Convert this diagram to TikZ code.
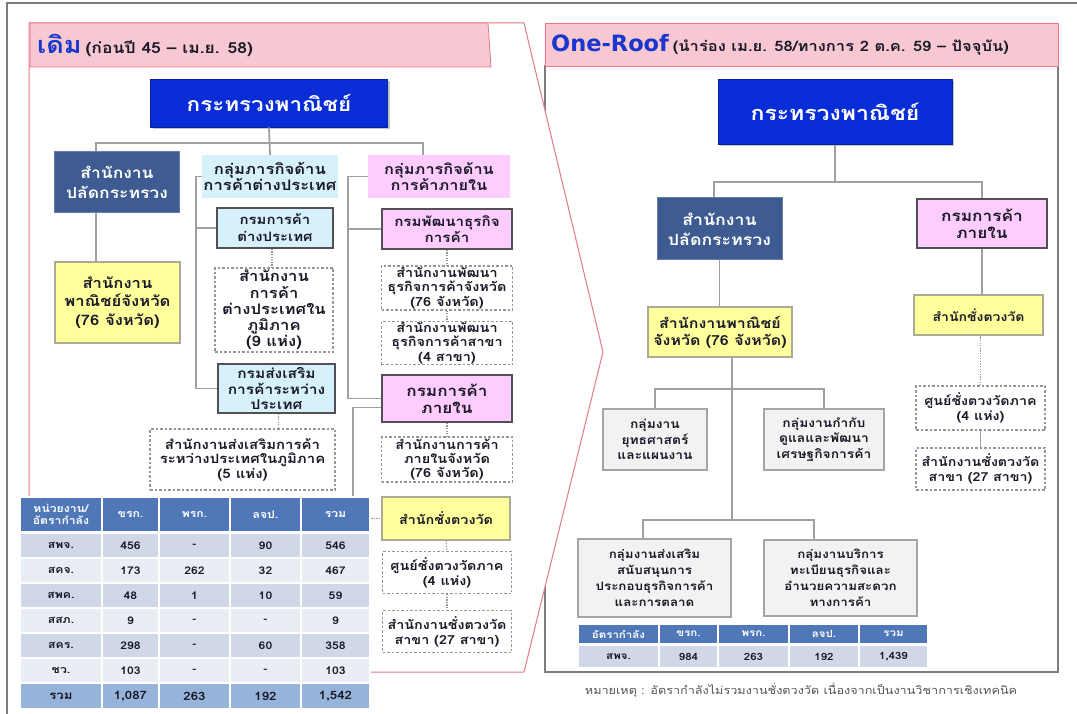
\documentclass[tikz,border=0pt]{standalone}
\usepackage{fontspec}
\setmainfont[Script=Thai, FakeStretch=1.15]{Loma}
\newfontfamily\latf{DejaVu Sans}
\usetikzlibrary{shadows}
\definecolor{titleblue}{RGB}{25,55,205}
\definecolor{minblue}{RGB}{8,45,215}
\definecolor{psblue}{RGB}{62,92,145}
\definecolor{cyanl}{RGB}{214,241,252}
\definecolor{pinkl}{RGB}{255,204,255}
\definecolor{yell}{RGB}{255,255,155}
\definecolor{ybord}{RGB}{170,170,150}
\definecolor{bdark}{RGB}{80,80,85}
\definecolor{dgray}{RGB}{150,150,150}
\definecolor{lgray}{RGB}{160,160,160}
\definecolor{grayf}{RGB}{242,242,242}
\definecolor{gbord}{RGB}{165,165,165}
\definecolor{txt}{RGB}{25,25,40}
\definecolor{phead}{RGB}{248,200,210}
\definecolor{pline}{RGB}{228,120,135}
\definecolor{thead}{RGB}{80,120,185}
\definecolor{rowd}{RGB}{208,216,232}
\definecolor{rowl}{RGB}{233,237,244}
\definecolor{rowt}{RGB}{150,180,218}
\definecolor{frame}{RGB}{125,125,125}
\definecolor{notec}{RGB}{85,85,85}
\newcommand{\fsz}[2]{\fontsize{#1}{#2}\selectfont}
\newcommand{\tabcell}[7]{\node[tcell, #5, minimum width={#2-#1}, minimum height={#4-#3}] (#7) at ({(#1+#2)/2},{(#3+#4)/2}) {#6};}
\tikzset{
  every node/.style={align=center, inner sep=1pt, text=txt},
  conn/.style={draw=lgray, line width=1.8pt},
  dotc/.style={draw=dgray, line width=1.1pt, dash pattern=on 1.3pt off 1.3pt},
  thinc/.style={draw=lgray, line width=1.1pt},
  minb/.style={rectangle, fill=minblue, draw=minblue!75!black, line width=0.8pt, text=white, font=\bfseries\fsz{19.5}{22}, drop shadow={opacity=0.45, shadow xshift=2pt, shadow yshift=-2pt}},
  psb/.style={rectangle, fill=psblue, draw=psblue!80!white, line width=1pt, text=white, font=\bfseries\fsz{15.2}{20}},
  grpc/.style={rectangle, fill=cyanl, font=\bfseries\fsz{14.5}{16}},
  cyb/.style={rectangle, fill=cyanl, draw=bdark, line width=1.5pt, font=\bfseries\fsz{13}{17}},
  grpp/.style={rectangle, fill=pinkl, font=\bfseries\fsz{14.2}{15.5}},
  pkb/.style={rectangle, fill=pinkl, draw=bdark, line width=1.5pt, font=\bfseries\fsz{13.2}{15.5}},
  yb/.style={rectangle, fill=yell, draw=ybord, line width=1.2pt, font=\bfseries\fsz{14.5}{18.5}},
  db/.style={rectangle, fill=white, draw=dgray, line width=1.1pt, dash pattern=on 2.5pt off 2pt, font=\bfseries\fsz{12.6}{14.3}},
  gb/.style={rectangle, fill=grayf, draw=gbord, line width=1.5pt, font=\bfseries\fsz{12}{15.5}},
  tcell/.style={rectangle, draw=white, line width=1.2pt, inner sep=0pt, font=\bfseries\fsz{10.6}{12}},
  thd/.style={fill=thead, text=white},
  tot/.style={fill=rowt, font=\bfseries\fsz{11.5}{13}},
}
\begin{document}
\begin{tikzpicture}[x=1pt,y=-1pt]
\useasboundingbox (0,0) rectangle (1077,714);
% outer frame
\draw[frame, line width=1.2pt] (7,3) rectangle (1090,730);
% right panel
\draw[draw=frame, line width=1.5pt, fill=white] (545,66) rectangle (1058,672);
\draw[fill=phead, draw=pline, line width=0.8pt] (545,23) rectangle (1058,66);
\node[anchor=west, inner sep=0pt] (rtitle) at (551,45) {\textcolor{titleblue}{\latf\bfseries\fsz{22.5}{24}One-Roof} {\bfseries\fsz{14.4}{17}(นำร่อง เม.ย. 58/ทางการ 2 ต.ค. 59 – ปัจจุบัน)}};
% left chevron panel
\fill[white] (29,23) -- (524,23) -- (603,352) -- (524,672) -- (29,672) -- cycle;
\draw[pline, line width=1pt] (29,497) -- (29,23) -- (524,23) -- (603,352) -- (524,672) -- (370,672);
\draw[fill=phead, draw=pline, line width=0.8pt] (30,23) -- (488,23) -- (491,67) -- (30,67) -- cycle;
\node[anchor=west, inner sep=0pt] (ltitle) at (37,45) {\textcolor{titleblue}{\bfseries\fsz{23.5}{26}เดิม} {\bfseries\fsz{15.2}{17}(ก่อนปี 45 – เม.ย. 58)}};

% ---------------- LEFT NODES ----------------
\node[minb, minimum width=237pt, minimum height=48pt] (m1) at (269,103) {กระทรวงพาณิชย์};
\node[psb, minimum width=125pt, minimum height=61pt] (ps1) at (117,182) {สำนักงาน\\ปลัดกระทรวง};
\node[yb, minimum width=125pt, minimum height=81pt] (pc1) at (117.5,302.5) {สำนักงาน\\พาณิชย์จังหวัด\\(76 จังหวัด)};
\node[grpc, minimum width=134pt, minimum height=43pt] (gf) at (270,176.5) {กลุ่มภารกิจด้าน\\การค้าต่างประเทศ};
\node[cyb, minimum width=116pt, minimum height=40pt] (dft) at (275,228) {กรมการค้า\\ต่างประเทศ};
\node[db, minimum width=118pt, minimum height=84pt, font=\bfseries\fsz{14.5}{16.3}] (dftr) at (274,310) {สำนักงาน\\การค้า\\ต่างประเทศใน\\ภูมิภาค\\(9 แห่ง)};
\node[cyb, minimum width=117pt, minimum height=49pt, font=\bfseries\fsz{13.5}{15.5}] (ditp) at (276.5,388.5) {กรมส่งเสริม\\การค้าระหว่าง\\ประเทศ};
\node[db, minimum width=185pt, minimum height=61pt, font=\bfseries\fsz{13}{14.5}] (ditpr) at (242.5,459.5) {สำนักงานส่งเสริมการค้า\\ระหว่างประเทศในภูมิภาค\\(5 แห่ง)};
\node[grpp, minimum width=142pt, minimum height=43pt] (gd) at (439,176.5) {กลุ่มภารกิจด้าน\\การค้าภายใน};
\node[pkb, minimum width=130pt, minimum height=40pt] (dbd) at (447,229) {กรมพัฒนาธุรกิจ\\การค้า};
\node[db, minimum width=131pt, minimum height=44pt] (dbdp) at (447,288) {สำนักงานพัฒนา\\ธุรกิจการค้าจังหวัด\\(76 จังหวัด)};
\node[db, minimum width=131pt, minimum height=42pt] (dbdb) at (447,343) {สำนักงานพัฒนา\\ธุรกิจการค้าสาขา\\(4 สาขา)};
\node[pkb, minimum width=130pt, minimum height=47pt, font=\bfseries\fsz{14.9}{17}] (dit) at (447,398.5) {กรมการค้า\\ภายใน};
\node[db, minimum width=131pt, minimum height=45pt] (ditr) at (447,459.5) {สำนักงานการค้า\\ภายในจังหวัด\\(76 จังหวัด)};
\node[yb, minimum width=128pt, minimum height=43pt, font=\bfseries\fsz{12.5}{15}] (cbw) at (446,518.5) {สำนักชั่งตวงวัด};
\node[db, minimum width=129pt, minimum height=42pt, font=\bfseries\fsz{12.5}{15}] (cbwr) at (447,572.5) {ศูนย์ชั่งตวงวัดภาค\\(4 แห่ง)};
\node[db, minimum width=129pt, minimum height=42pt, font=\bfseries\fsz{12.5}{15}] (cbwb) at (447,631.5) {สำนักงานชั่งตวงวัด\\สาขา (27 สาขา)};

% left connectors
\coordinate (hl) at (96,143);
\coordinate (hr) at (423,143);
\coordinate (sp1) at (196,0);
\coordinate (sp2) at (348,0);
\coordinate (sp3) at (353,0);
\draw[conn] (ps1.north -| hl) -- (hl) -- (hr) -- (gd.north -| hr);
\draw[conn] (m1.south) -- (gf.north);
\draw[conn] (ps1.south -| hl) -- (pc1.north -| hl);
\draw[conn] (gf.west) -| (sp1 |- ditp.west) -- (ditp.west);
\draw[conn] (sp1 |- dft.west) -- (dft.west);
\draw[conn] (gd.west) -| (sp2 |- dit.west) -- (dit.west);
\draw[conn] (sp2 |- dbd.west) -- (dbd.west);
\draw[conn] ([yshift=-9pt]dit.west) -| (sp3 |- cbw.west);
\draw[dotc] (sp3 |- cbw.west) -- (cbw.west);
\draw[dotc] ([xshift=-3pt]dft.south) -- ([xshift=-3pt]dft.south |- dftr.north);
\draw[dotc] ([xshift=2pt]ditp.south) -- ([xshift=2pt]ditp.south |- ditpr.north);
\draw[dotc] (dbd.south) -- (dbdp.north);
\draw[dotc] (dbdp.south) -- (dbdb.north);
\draw[dotc] (dit.south) -- (ditr.north);
\draw[dotc] (cbw.south) -- (cbwr.north);
\draw[dotc] (cbwr.south) -- (cbwb.north);

% left table
\tabcell{20}{102}{497}{532}{thd}{หน่วยงาน/\\อัตรากำลัง}{lh1}
\tabcell{102}{159}{497}{532}{thd}{ขรก.}{lh2}
\tabcell{159}{230}{497}{532}{thd}{พรก.}{lh3}
\tabcell{230}{301}{497}{532}{thd}{ลจป.}{lh4}
\tabcell{301}{370}{497}{532}{thd}{รวม}{lh5}
\foreach \lab/\a/\b/\c/\d [count=\i] in {สพจ./456/-/90/546, สคจ./173/262/32/467, สพค./48/1/10/59, สสภ./9/-/-/9, สคร./298/-/60/358, ชว./103/-/-/103}{
  \pgfmathsetmacro{\ya}{533+25*(\i-1)}
  \pgfmathsetmacro{\yb}{533+25*\i}
  \pgfmathtruncatemacro{\odd}{mod(\i,2)}
  \ifnum\odd=1 \def\rc{rowd}\else\def\rc{rowl}\fi
  \tabcell{20}{102}{\ya}{\yb}{fill=\rc}{\lab}{lr\i c1}
  \tabcell{102}{159}{\ya}{\yb}{fill=\rc}{\a}{lr\i c2}
  \tabcell{159}{230}{\ya}{\yb}{fill=\rc}{\b}{lr\i c3}
  \tabcell{230}{301}{\ya}{\yb}{fill=\rc}{\c}{lr\i c4}
  \tabcell{301}{370}{\ya}{\yb}{fill=\rc}{\d}{lr\i c5}
}
\tabcell{20}{102}{683}{709}{tot}{รวม}{lt1}
\tabcell{102}{159}{683}{709}{tot}{1,087}{lt2}
\tabcell{159}{230}{683}{709}{tot}{263}{lt3}
\tabcell{230}{301}{683}{709}{tot}{192}{lt4}
\tabcell{301}{370}{683}{709}{tot}{1,542}{lt5}

% ---------------- RIGHT NODES ----------------
\node[minb, minimum width=234pt, minimum height=65pt, font=\bfseries\fsz{20}{22}] (m2) at (835,112) {กระทรวงพาณิชย์};
\node[psb, minimum width=125pt, minimum height=62pt, font=\bfseries\fsz{15.4}{20}] (ps2) at (719.5,229) {สำนักงาน\\ปลัดกระทรวง};
\node[pkb, minimum width=130pt, minimum height=49pt, font=\bfseries\fsz{15}{17}] (dit2) at (982,223.5) {กรมการค้า\\ภายใน};
\node[yb, minimum width=144pt, minimum height=50pt, font=\bfseries\fsz{13.9}{17}] (pc2) at (720,332) {สำนักงานพาณิชย์\\จังหวัด (76 จังหวัด)};
\node[yb, minimum width=129pt, minimum height=40pt, font=\bfseries\fsz{12.2}{15}] (cbw2) at (978.5,315) {สำนักชั่งตวงวัด};
\node[db, minimum width=129pt, minimum height=44pt, font=\bfseries\fsz{12.4}{15}] (cbwr2) at (980.5,408) {ศูนย์ชั่งตวงวัดภาค\\(4 แห่ง)};
\node[db, minimum width=129pt, minimum height=42pt, font=\bfseries\fsz{12.4}{15}] (cbwb2) at (980.5,469) {สำนักงานชั่งตวงวัด\\สาขา (27 สาขา)};
\node[gb, minimum width=104pt, minimum height=61pt] (g1) at (655,439.5) {กลุ่มงาน\\ยุทธศาสตร์\\และแผนงาน};
\node[gb, minimum width=120pt, minimum height=61pt] (g2) at (824,439.5) {กลุ่มงานกำกับ\\ดูแลและพัฒนา\\เศรษฐกิจการค้า};
\node[gb, minimum width=153pt, minimum height=78pt, font=\bfseries\fsz{11.6}{16}] (g3) at (654.5,578) {กลุ่มงานส่งเสริม\\สนับสนุนการ\\ประกอบธุรกิจการค้า\\และการตลาด};
\node[gb, minimum width=153pt, minimum height=76pt, font=\bfseries\fsz{11.6}{16}] (g4) at (840.5,578) {กลุ่มงานบริการ\\ทะเบียนธุรกิจและ\\อำนวยความสะดวก\\ทางการค้า};

% right connectors
\coordinate (hl2) at (714,182);
\coordinate (hr2) at (982,182);
\coordinate (h3) at (0,389);
\coordinate (h4l) at (643,520);
\coordinate (h4r) at (814,520);
\coordinate (vx) at (732,0);
\draw[conn] (ps2.north -| hl2) -- (hl2) -- (hr2) -- (dit2.north -| hr2);
\draw[conn] (m2.south) -- (m2.south |- hl2);
\draw[conn] (ps2.south) -- (pc2.north -| ps2.south);
\draw[conn] (pc2.south -| vx) -- (vx |- h4l);
\draw[conn] (g1.north) -- (g1.north |- h3) -- (g2.north |- h3) -- (g2.north);
\draw[conn] (g3.north -| h4l) -- (h4l) -- (h4r) -- (g4.north -| h4r);
\draw[conn] (dit2.south) -- (dit2.south |- cbw2.north);
\draw[dotc] (cbwr2.north) -- (cbwr2.north |- cbw2.south);
\draw[thinc] (cbwr2.south) -- (cbwb2.north);

% right table
\tabcell{578}{659}{624}{644}{thd, font=\bfseries\fsz{10}{11}}{อัตรากำลัง}{rh1}
\tabcell{659}{718}{624}{644}{thd, font=\bfseries\fsz{10}{11}}{ขรก.}{rh2}
\tabcell{718}{789}{624}{644}{thd, font=\bfseries\fsz{10}{11}}{พรก.}{rh3}
\tabcell{789}{859}{624}{644}{thd, font=\bfseries\fsz{10}{11}}{ลจป.}{rh4}
\tabcell{859}{928}{624}{644}{thd, font=\bfseries\fsz{10}{11}}{รวม}{rh5}
\tabcell{578}{659}{645}{668}{fill=rowd, font=\bfseries\fsz{10}{11}}{สพจ.}{rr1}
\tabcell{659}{718}{645}{668}{fill=rowd, font=\bfseries\fsz{10}{11}}{984}{rr2}
\tabcell{718}{789}{645}{668}{fill=rowd, font=\bfseries\fsz{10}{11}}{263}{rr3}
\tabcell{789}{859}{645}{668}{fill=rowd, font=\bfseries\fsz{10}{11}}{192}{rr4}
\tabcell{859}{928}{645}{668}{fill=rowd, font=\bfseries\fsz{10}{11}}{1,439}{rr5}

% footnote
\node[text=notec, font=\fsz{11}{13}] (note) at (801,690) {หมายเหตุ : อัตรากำลังไม่รวมงานชั่งตวงวัด เนื่องจากเป็นงานวิชาการเชิงเทคนิค};
\end{tikzpicture}
\end{document}
